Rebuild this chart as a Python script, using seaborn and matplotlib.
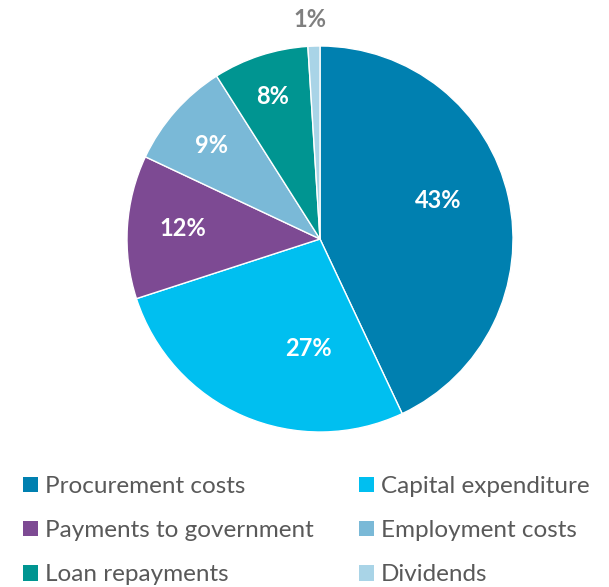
import matplotlib
matplotlib.use("Agg")
import matplotlib.pyplot as plt
from matplotlib.patches import Patch
import seaborn as sns

# Share of total spending by category (percent)
categories = ["Procurement costs", "Capital expenditure", "Payments to government",
              "Employment costs", "Loan repayments", "Dividends"]
shares = [43, 27, 12, 9, 8, 1]
colors = ["#0080B0", "#00BFF0", "#7D4A93", "#7AB9D7", "#009591", "#A9D4E7"]

sns.set_theme(style="white")
plt.rcParams["font.family"] = ["Lato", "DejaVu Sans"]

W, H = 609, 587
fig = plt.figure(figsize=(W / 100, H / 100), dpi=100)

# Pie axes: centre (320, 239) px, radius 193 px
cx, cy, R = 320, 239, 193
ax = fig.add_axes([(cx - R) / W, (H - cy - R) / H, 2 * R / W, 2 * R / H])
wedges, _ = ax.pie(shares, colors=colors, startangle=90, counterclock=False,
                   radius=1.0, wedgeprops=dict(linewidth=1, edgecolor="white"))
ax.set_xlim(-1, 1)
ax.set_ylim(-1, 1)
ax.set_aspect("equal")
ax.axis("off")

# Label placement inside each slice (units of radius)
label_pos = [(0.611, 0.197), (-0.062, -0.565), (-0.710, 0.052),
             (-0.560, 0.482), (-0.244, 0.736), (-0.052, 1.135)]
for val, (x, y) in zip(shares, label_pos):
    col = "white" if val > 2 else "#7F7F7F"
    ax.text(x, y, f"{val}%", ha="center", va="center", color=col,
            fontsize=17, fontweight="bold")

# Legend in two columns
order = [0, 2, 4, 1, 3, 5]
handles = [Patch(facecolor=colors[i], edgecolor="none") for i in order]
labels = [categories[i] for i in order]
leg = fig.legend(handles, labels, ncol=2, loc="upper left",
                 bbox_to_anchor=(23 / W, 1 - 476 / H), frameon=False,
                 fontsize=17.5, handlelength=0.62, handleheight=0.62,
                 handletextpad=0.29, columnspacing=1.85, labelspacing=0.95,
                 borderaxespad=0, borderpad=0)
for t in leg.get_texts():
    t.set_color("#595959")

fig.savefig("out.png", dpi=100)
